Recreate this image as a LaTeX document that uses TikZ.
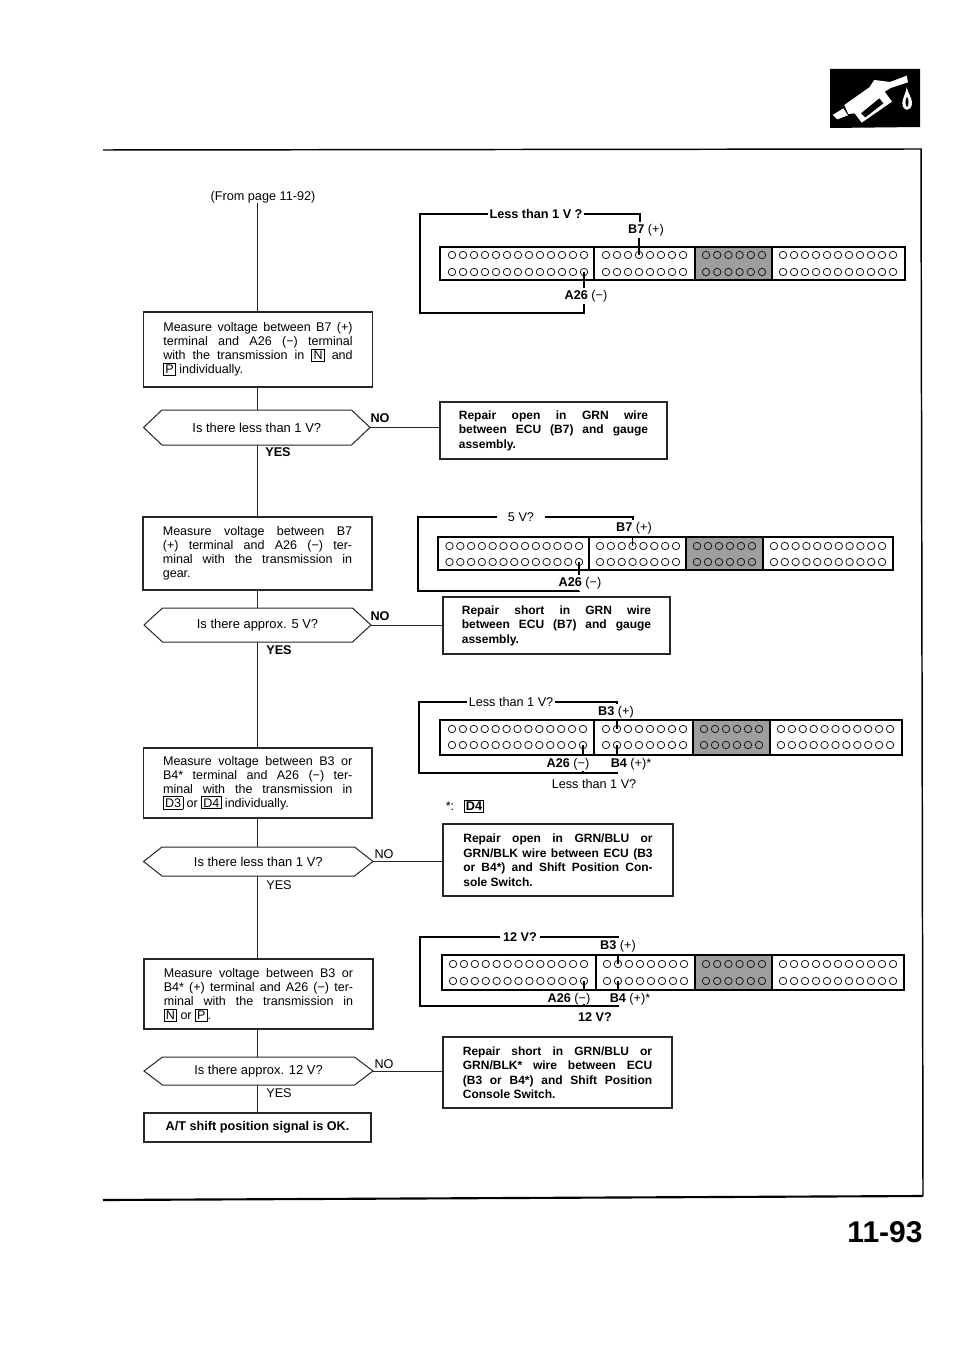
\documentclass[tikz,border=0pt]{standalone}
\usepackage{fontspec}
\setmainfont{Liberation Sans}
\newlength{\jw}
\newcommand\jl[1]{\makebox[\jw][s]{#1}\\}
\newcommand\kb[1]{\smash{\setlength{\fboxsep}{1pt}\setlength{\fboxrule}{.55pt}\fbox{#1}}}
\newcommand\boxnode[7][flowbox]{\node[#1,minimum width={(#3-#2)*0.75pt},minimum height={(#5-#4)*0.75pt}] (#6) at ({(#2+#3)/2},{(#4+#5)/2}) {\setlength{\jw}{142pt}\parbox[c]{\jw}{#7}};}
% hexagon: name, left, right, top, bottom, text
\newcommand\hexnode[6]{%
  \draw[flowline] (#2,{(#4+#5)/2}) -- (#2+18.5,#4) -- (#3-18.5,#4) -- (#3,{(#4+#5)/2}) -- (#3-18.5,#5) -- (#2+18.5,#5) -- cycle;
  \node[hexlabel,minimum width={(#3-#2)*0.75pt},minimum height={(#5-#4)*0.75pt}] (#1) at ({(#2+#3)/2},{(#4+#5)/2}) {#6};}
% a row of pins
\newcommand\pins[5]{\foreach \i in {1,...,#4}{\node[pinhole] (#1-\i) at ({#2+(\i-1)*(#3-#2)/(#4-1)},#5) {};}}
% connector body: x0 x1 y0 y1 d1 d2 d3
\newcommand\body[7]{%
  \fill[shade box] (#6,#3) rectangle (#7,#4);
  \draw[conn] (#1,#3) rectangle (#2,#4);
  \draw[conn] (#5,#3) -- (#5,#4) (#6,#3) -- (#6,#4) (#7,#3) -- (#7,#4);}
% all pins of a connector: name, r1, r2, then 8 ends
\newcommand\allpins[9]{\def\cn{#1}\def\ra{#2}\def\rb{#3}%
  \pins{\cn a1}{#4}{#5}{13}{\ra}\pins{\cn a2}{#4}{#5}{13}{\rb}%
  \pins{\cn b1}{#6}{#7}{8}{\ra}\pins{\cn b2}{#6}{#7}{8}{\rb}%
  \pins{\cn c1}{#8}{#9}{6}{\ra}\pins{\cn c2}{#8}{#9}{6}{\rb}\allpinsend}
\newcommand\allpinsend[2]{\pins{\cn d1}{#1}{#2}{11}{\ra}\pins{\cn d2}{#1}{#2}{11}{\rb}}
\tikzset{
  flowline/.style={line width=.75pt,black!85},
  flowbox/.style={draw=black!85,line width=.85pt,rectangle,inner sep=0pt,outer sep=0pt,font=\fontsize{9.4}{10.4}\selectfont,fill=white},
  repairbox/.style={flowbox,font=\fontsize{9}{10.9}\selectfont\bfseries},
  hexlabel/.style={inner sep=0pt,outer sep=0pt,font=\fontsize{9.7}{10.4}\selectfont},
  lab/.style={inner xsep=0pt,inner ysep=1.5pt,outer sep=0pt,font=\fontsize{9.5}{10}\selectfont},
  blab/.style={lab,font=\fontsize{9.5}{10}\selectfont\bfseries},
  pinhole/.style={circle,draw=black!90,line width=.6pt,minimum size=5.6pt,inner sep=0pt,outer sep=0pt},
  conn/.style={line width=1.35pt,black},
  wire/.style={line width=.85pt,black},
  shade box/.style={fill=black!38},
  frameline/.style={line width=1.1pt,black},
}
\begin{document}
\begin{tikzpicture}[x=0.75pt,y=-0.75pt]
\useasboundingbox (0,0) rectangle (960,1358);
\fill[white] (0,0) rectangle (960,1358);

% frame
\coordinate (ftl) at (103,150);
\coordinate (ftr) at (921,149);
\coordinate (fbr) at (923,1196);
\coordinate (fbl) at (103,1200);
\draw[frameline] (ftl) -- (ftr) -- (fbr);
\draw[line width=1.6pt] (fbr) -- (fbl);
\node[inner sep=0pt,font=\fontsize{22.5}{24}\selectfont\bfseries] (pageno) at (885,1232.5) {11-93};

% fuel nozzle icon
\fill[black] (830,69) -- (920,69) -- (920,127) -- (830,128) -- cycle;
\begin{scope}[shift={(780,60)},x=0.25pt,y=-0.25pt]
  \fill[white] (158,165) -- (190,145) -- (204,166) -- (172,178) -- cycle;
  \fill[white] (193,135) -- (268,82) -- (283,60) -- (330,66) -- (380,47) -- (384,67) -- (332,84) -- (314,95) -- (336,125) -- (245,188) -- (224,160) -- (205,162) -- cycle;
  \fill[black] (243,160) -- (298,115) -- (310,130) -- (256,172) -- cycle;
  \fill[white] (380,82) .. controls (386,105) and (397,115) .. (396,130) .. controls (394,156) and (368,156) .. (367,130) .. controls (367,115) and (376,105) .. (380,82) -- cycle;
  \fill[black] (381,110) .. controls (386,120) and (388,130) .. (381,142) .. controls (374,130) and (376,120) .. (381,110) -- cycle;
\end{scope}

% flow: left column
\node[lab] (from) at (263,197) {(From page 11-92)};

\boxnode{143.5}{372.5}{312}{387}{m1}{\jl{Measure voltage between B7 (+)}\jl{terminal and A26 (−) terminal}\jl{with the transmission in \kb{N} and}\kb{P} individually.}
\hexnode{h1}{143.5}{370}{410}{445}{Is there less than 1 V?}
\boxnode{143}{372}{517}{590}{m2}{\jl{Measure voltage between B7}\jl{(+) terminal and A26 (−) ter-}\jl{minal with the transmission in}gear.}
\hexnode{h2}{144}{371}{608}{642}{Is there approx. 5 V?}
\boxnode{143.5}{372}{748}{818}{m3}{\jl{Measure voltage between B3 or}\jl{B4* terminal and A26 (−) ter-}\jl{minal with the transmission in}\kb{D3} or \kb{D4} individually.}
\hexnode{h3}{143.5}{373}{847}{876}{Is there less than 1 V?}
\boxnode{144}{373}{959}{1029}{m4}{\jl{Measure voltage between B3 or}\jl{B4* (+) terminal and A26 (−) ter-}\jl{minal with the transmission in}\kb{N} or \kb{P}.}
\hexnode{h4}{144}{373}{1057}{1085}{Is there approx. 12 V?}
\node[flowbox,minimum width={227*0.75pt},minimum height={29*0.75pt},font=\fontsize{9.5}{10.4}\selectfont\bfseries] (ok) at (257.5,1127.5) {A/T shift position signal is OK.};

\draw[flowline] (257,203) -- (m1.north -| 257,0);
\draw[flowline] (m1.south -| 257,0) -- (h1.north -| 257,0);
\draw[flowline] (h1.south -| 257,0) -- (m2.north -| 257,0);
\draw[flowline] (m2.south -| 257,0) -- (h2.north -| 257,0);
\draw[flowline] (h2.south -| 257,0) -- (m3.north -| 257,0);
\draw[flowline] (m3.south -| 257,0) -- (h3.north -| 257,0);
\draw[flowline] (h3.south -| 257,0) -- (m4.north -| 257,0);
\draw[flowline] (m4.south -| 257,0) -- (h4.north -| 257,0);
\draw[flowline] (h4.south -| 257,0) -- (ok.north -| 257,0);

% YES / NO
\node[blab] (y1) at (278,452) {YES};
\node[blab] (n1) at (380,418) {NO};
\node[blab] (y2) at (279,650) {YES};
\node[blab] (n2) at (380,616) {NO};
\node[lab] (y3) at (279,885) {YES};
\node[lab] (n3) at (384,854) {NO};
\node[lab] (y4) at (279,1093) {YES};
\node[lab] (n4) at (384,1064) {NO};

% repair boxes
\boxnode[repairbox]{440}{667}{402}{459}{r1}{\jl{Repair open in GRN wire}\jl{between ECU (B7) and gauge}assembly.}
\boxnode[repairbox]{443}{670}{597}{654}{r2}{\jl{Repair short in GRN wire}\jl{between ECU (B7) and gauge}assembly.}
\boxnode[repairbox]{443}{673}{824}{896}{r3}{\jl{Repair open in GRN/BLU or}\jl{GRN/BLK wire between ECU (B3}\jl{or B4*) and Shift Position Con-}sole Switch.}
\boxnode[repairbox]{443}{672}{1037}{1108}{r4}{\jl{Repair short in GRN/BLU or}\jl{GRN/BLK* wire between ECU}\jl{(B3 or B4*) and Shift Position}Console Switch.}
\draw[flowline] (h1.east) -- (h1.east -| r1.west);
\draw[flowline] (h2.east) -- (h2.east -| r2.west);
\draw[flowline] (h3.east) -- (h3.east -| r3.west);
\draw[flowline] (h4.east) -- (h4.east -| r4.west);

% connector 1
\body{440}{905}{247}{280}{594}{695}{772}
\allpins{A}{255}{272}{452}{584}{606}{683}{706}{762}{783}{893}
\node[blab,inner xsep=1.5pt] (A1) at (536,214) {Less than 1 V ?};
\node[lab] (A2) at (646,230) {\textbf{B7} (+)};
\node[lab] (A3) at (586,296) {\textbf{A26} (−)};
\coordinate (Atl) at (420,214);
\coordinate (Atr) at (640,214);
\coordinate (Abl) at (420,313);
\draw[wire] (A1.west) -- (Atl) -- (Abl) -| (Aa2-13 |- A3.south);
\draw[wire] (A1.east) -- (Atr) -- (Atr |- A2.north);
\draw[wire] (Ab1-4 |- A2.south) -- (Ab1-4.center);
\draw[wire] (Aa2-13.center) -- (Aa2-13 |- A3.north);

% connector 2
\body{438}{893}{537}{570}{589}{686}{763}
\allpins{B}{546}{562}{449.5}{579}{600}{676}{697}{752}{774}{882}
\node[lab,inner xsep=8pt] (B1) at (521,517) {5 V?};
\node[lab] (B2) at (634,528) {\textbf{B7} (+)};
\node[lab] (B3) at (580,583) {\textbf{A26} (−)};
\coordinate (Btl) at (418,517);
\coordinate (Btr) at (633,517);
\coordinate (Bbl) at (418,591);
\draw[wire] (B1.west) -- (Btl) -- (Bbl) -| (Ba2-13 |- B3.south);
\draw[wire] (B1.east) -- (Btr) -- (Btr |- B2.north);
\draw[wire] (Bb1-4 |- B2.south) -- (Bb1-4.center);
\draw[wire] (Ba2-13.center) -- (Ba2-13 |- B3.north);

% connector 3
\body{440}{902}{720}{755}{594}{693}{770}
\allpins{C}{729}{745}{452}{583}{606}{683}{704}{759}{781}{890}
\node[lab,inner xsep=1pt] (C1) at (511,702) {Less than 1 V?};
\node[lab] (C2) at (616,712) {\textbf{B3} (+)};
\node[lab] (C3) at (568,764) {\textbf{A26} (−)};
\node[lab] (C4) at (631,764) {\textbf{B4} (+)*};
\node[lab] (C5) at (594,784) {Less than 1 V?};
\node[lab] (C6) at (450,806) {*:};
\node[draw,line width=.7pt,inner sep=1pt,outer sep=0pt,font=\fontsize{9.5}{10}\selectfont\bfseries] (C7) at (474,806.5) {D4};
\coordinate (Ctl) at (419,702);
\coordinate (Ctr) at (617,702);
\coordinate (Cbl) at (419,773);
\coordinate (Cbr) at (617,773);
\draw[wire] (C1.west) -- (Ctl) -- (Cbl) -- (Cbr) -- (Cbr |- C4.south);
\draw[wire] (C1.east) -- (Ctr) -- (Ctr |- C2.north);
\draw[wire] (Cb1-2 |- C2.south) -- (Cb1-2.center);
\draw[wire] (Ca2-13.center) -- (Ca2-13 |- C3.north);
\draw[wire] (Cb2-2.center) -- (Cb2-2 |- C4.north);
\draw[wire] (Ca2-13 |- Cbl) -- ++(0,-2);

% connector 4
\body{442}{904}{955}{990}{596}{695}{772}
\allpins{D}{964}{981}{453}{584}{607}{684}{706}{762}{783}{893}
\node[blab,inner xsep=2pt] (D1) at (520,937) {12 V?};
\node[lab] (D2) at (618,946) {\textbf{B3} (+)};
\node[lab] (D3) at (569,999) {\textbf{A26} (−)};
\node[lab] (D4) at (630,999) {\textbf{B4} (+)*};
\node[blab] (D5) at (595,1017) {12 V?};
\coordinate (Dtl) at (420,937);
\coordinate (Dtr) at (618,937);
\coordinate (Dbl) at (420,1006);
\coordinate (Dbr) at (618,1006);
\draw[wire] (D1.west) -- (Dtl) -- (Dbl) -- (Dbr) -- (Dbr |- D4.south);
\draw[wire] (D1.east) -- (Dtr) -- (Dtr |- D2.north);
\draw[wire] (Db1-2 |- D2.south) -- (Db1-2.center);
\draw[wire] (Da2-13.center) -- (Da2-13 |- D3.north);
\draw[wire] (Db2-2.center) -- (Db2-2 |- D4.north);
\draw[wire] (Da2-13 |- Dbl) -- ++(0,-2);
\end{tikzpicture}
\end{document}
